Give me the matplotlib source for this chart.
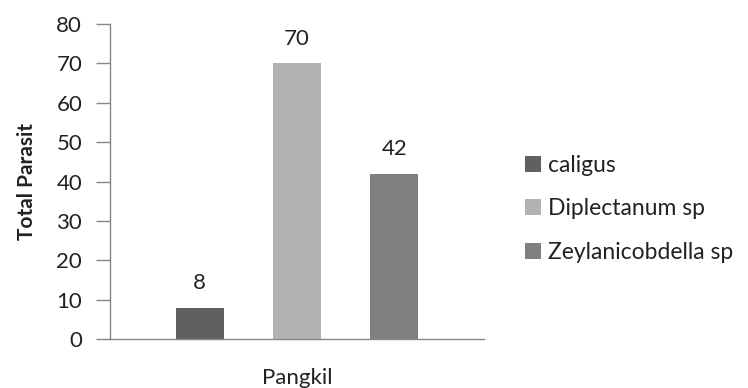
import matplotlib
matplotlib.use("Agg")
import matplotlib.pyplot as plt

plt.rcParams['font.family'] = ['Lato', 'DejaVu Sans']

category = "Pangkil"
series = ["caligus", "Diplectanum sp", "Zeylanicobdella sp"]
values = [8, 70, 42]
colors = ["#606060", "#b2b2b2", "#808080"]

fig = plt.figure(figsize=(7.48, 3.88), dpi=100)
ax = fig.add_axes([0.147, 0.126, 0.5, 0.812])

offsets = [-0.26, 0.0, 0.26]
width = 0.128
for name, val, col, off in zip(series, values, colors, offsets):
    ax.bar(off, val, width=width, color=col, label=name)
    ax.text(off, val + 6.2, str(val), ha="center", va="center",
            fontsize=16, color="#222222")

ax.set_xlim(-0.5, 0.5)
ax.set_ylim(0, 80)
ax.set_yticks(range(0, 81, 10))
ax.set_xticks([0])
ax.set_xticklabels([category])
ax.tick_params(axis="x", length=0, pad=21, labelsize=16, labelcolor="#222222")
ax.tick_params(axis="y", length=10, width=1, color="#868686", pad=10,
               labelsize=16, labelcolor="#222222")

for side in ("top", "right"):
    ax.spines[side].set_visible(False)
for side in ("left", "bottom"):
    ax.spines[side].set_color("#868686")
    ax.spines[side].set_linewidth(1)

ax.set_ylabel("Total Parasit", fontsize=15, fontweight="bold", color="#222222")
ax.yaxis.set_label_coords(-0.195, 0.5)

ax.legend(loc="center left", bbox_to_anchor=(1.11, 0.414), frameon=False,
          borderpad=0, borderaxespad=0,
          fontsize=16.5, handlelength=0.7, handleheight=0.7, handletextpad=0.3,
          labelspacing=0.98, labelcolor="#222222")

fig.savefig("out.png", dpi=100)
